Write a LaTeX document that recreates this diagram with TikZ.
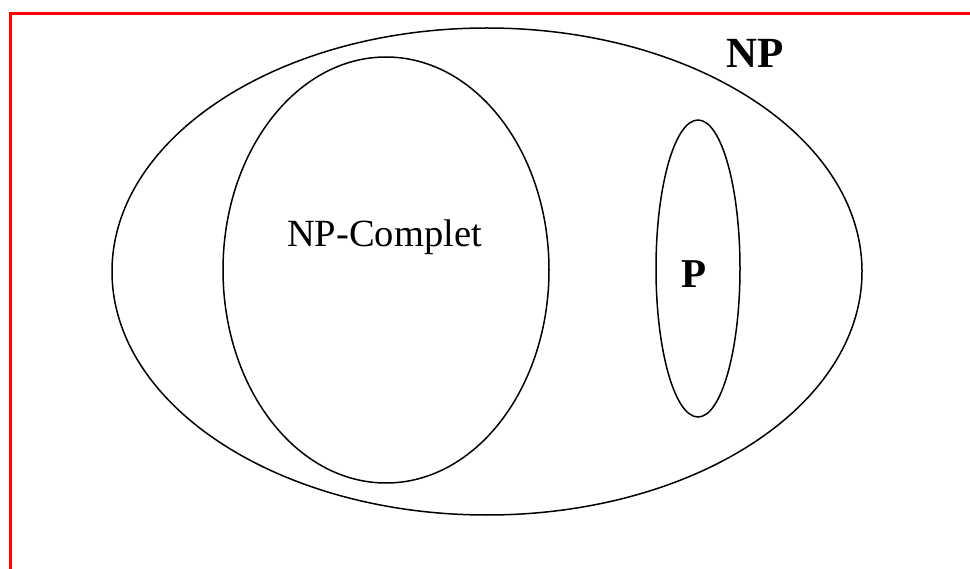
\documentclass[tikz,border=0pt]{standalone}
\usepackage{fontspec}
\setmainfont{Liberation Serif}
\begin{document}
\begin{tikzpicture}[x=1pt,y=-1pt,
  setline/.style={draw=black, line width=1.5pt},
  lbl/.style={anchor=base, inner sep=0pt}]
\useasboundingbox (0,0) rectangle (970,569);
\fill[white] (0,0) rectangle (970,569);
\draw[red, line width=3pt] (10,569) -- (10,14) -- (970,14);
\draw[setline] (487,271.5) ellipse [x radius=375, y radius=243.5];
\draw[setline] (386,270) ellipse [x radius=163, y radius=213];
\draw[setline] (698,268.5) ellipse [x radius=42, y radius=148.5];
\node[lbl, font=\fontsize{43}{43}\selectfont\bfseries] (np) at (755,68) {NP};
\node[lbl, font=\fontsize{38.5}{38.5}\selectfont] (npc) at (384.5,247) {NP-Complet};
\node[lbl, font=\fontsize{41}{41}\selectfont\bfseries] (p) at (694.5,288) {P};
\end{tikzpicture}
\end{document}
